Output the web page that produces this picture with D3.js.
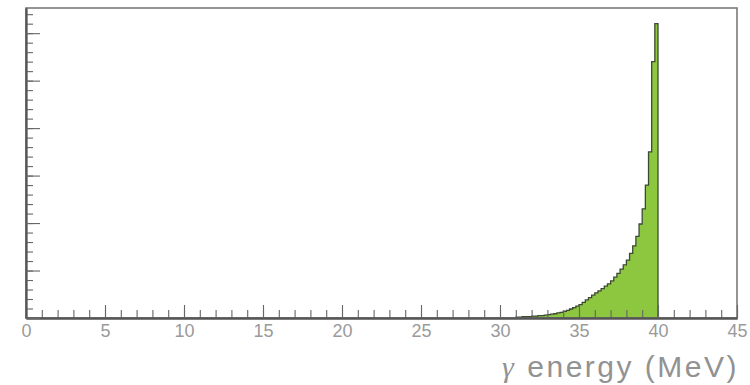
<!DOCTYPE html>
<html>
<head>
<meta charset="utf-8">
<script src="https://cdn.jsdelivr.net/npm/d3@7"></script>
<style>
  body { margin: 0; background: #fff; }
  svg { display: block; }
</style>
</head>
<body>
<div id="chart"></div>
<script>
// Histogram data: lower edge of each 0.2 MeV bin and its height (arbitrary units)
const binLow = [31.0, 31.2, 31.4, 31.6, 31.8, 32.0, 32.2, 32.4, 32.6, 32.8,
                33.0, 33.2, 33.4, 33.6, 33.8, 34.0, 34.2, 34.4, 34.6, 34.8,
                35.0, 35.2, 35.4, 35.6, 35.8, 36.0, 36.2, 36.4, 36.6, 36.8,
                37.0, 37.2, 37.4, 37.6, 37.8, 38.0, 38.2, 38.4, 38.6, 38.8,
                39.0, 39.2, 39.4, 39.6, 39.8];
const binHeight = [0.02, 0.02, 0.03, 0.03, 0.03, 0.04, 0.04, 0.05, 0.05, 0.06,
                   0.07, 0.08, 0.09, 0.11, 0.12, 0.14, 0.16, 0.19, 0.22, 0.25,
                   0.28, 0.33, 0.38, 0.43, 0.48, 0.53, 0.57, 0.62, 0.67, 0.72,
                   0.78, 0.86, 0.94, 1.03, 1.12, 1.22, 1.36, 1.52, 1.72, 1.98,
                   2.30, 2.80, 3.50, 5.40, 6.20];
const binWidth = 0.2;
const xTickLabels = [0, 5, 10, 15, 20, 25, 30, 35, 40, 45];
const xTitleSymbol = 'γ';
const xTitle = ' energy (MeV)';

const W = 750, H = 385;
const margin = { top: 8, right: 13, bottom: 67, left: 26 };
const width = W - margin.left - margin.right;
const height = H - margin.top - margin.bottom;

const svg = d3.select('#chart').append('svg')
    .attr('width', W)
    .attr('height', H);
const g = svg.append('g')
    .attr('transform', `translate(${margin.left},${margin.top})`);

const x = d3.scaleLinear().domain([0, 45]).range([0, width]);
const y = d3.scaleLinear().domain([0, 6.53]).range([height, 0]);

// Histogram as a stepped outline
const pts = [[binLow[0], 0]];
binLow.forEach((b, i) => {
    pts.push([b, binHeight[i]]);
    pts.push([b + binWidth, binHeight[i]]);
});
pts.push([binLow[binLow.length - 1] + binWidth, 0]);

const area = d3.area()
    .x(d => x(d[0]))
    .y0(height)
    .y1(d => y(d[1]));
const line = d3.line()
    .x(d => x(d[0]))
    .y(d => y(d[1]));

g.append('path')
    .datum(pts)
    .attr('d', area)
    .attr('fill', '#8dc63f');
g.append('path')
    .datum(pts)
    .attr('d', line)
    .attr('fill', 'none')
    .attr('stroke', '#3d4a33')
    .attr('stroke-width', 1.3);

// Frame
g.append('rect')
    .attr('x', 0).attr('y', 0)
    .attr('width', width).attr('height', height)
    .attr('fill', 'none')
    .attr('stroke', '#7a7a7a')
    .attr('stroke-width', 1.6);

// X axis: minor every 1 MeV, major every 5, ticks point inward
const xAxis = g.append('g').attr('transform', `translate(0,${height})`);
xAxis.call(d3.axisBottom(x).tickValues(d3.range(0, 46, 1)).tickFormat('').tickSizeInner(-8).tickSizeOuter(0));
xAxis.append('g').call(d3.axisBottom(x).tickValues(xTickLabels).tickSizeInner(-13).tickSizeOuter(0).tickPadding(6));
xAxis.selectAll('.domain').attr('stroke', '#555').attr('stroke-width', 1.8);
xAxis.selectAll('line').attr('stroke', '#666').attr('stroke-width', 1.1);
xAxis.selectAll('text')
    .attr('font-family', 'Liberation Sans, sans-serif')
    .attr('font-size', 18)
    .attr('fill', '#9a9a9a');

// Y axis: no labels, minor every 0.2, major every 1
const yAxis = g.append('g');
yAxis.call(d3.axisLeft(y).tickValues(d3.range(0, 6.5, 0.2)).tickFormat('').tickSizeInner(-7).tickSizeOuter(0));
yAxis.append('g').call(d3.axisLeft(y).tickValues(d3.range(0, 7, 1)).tickFormat('').tickSizeInner(-14).tickSizeOuter(0));
yAxis.selectAll('.domain').attr('stroke', '#555').attr('stroke-width', 1.8);
yAxis.selectAll('line').attr('stroke', '#666').attr('stroke-width', 1.1);

// Axis title
const title = svg.append('text')
    .attr('x', 739)
    .attr('y', 377)
    .attr('text-anchor', 'end')
    .attr('font-family', 'Liberation Sans, sans-serif')
    .attr('font-size', 30)
    .attr('letter-spacing', 2.5)
    .attr('fill', '#929292');
title.append('tspan')
    .attr('font-family', 'Liberation Serif, serif')
    .attr('font-style', 'italic')
    .text(xTitleSymbol);
title.append('tspan').text(xTitle);
</script>
</body>
</html>
